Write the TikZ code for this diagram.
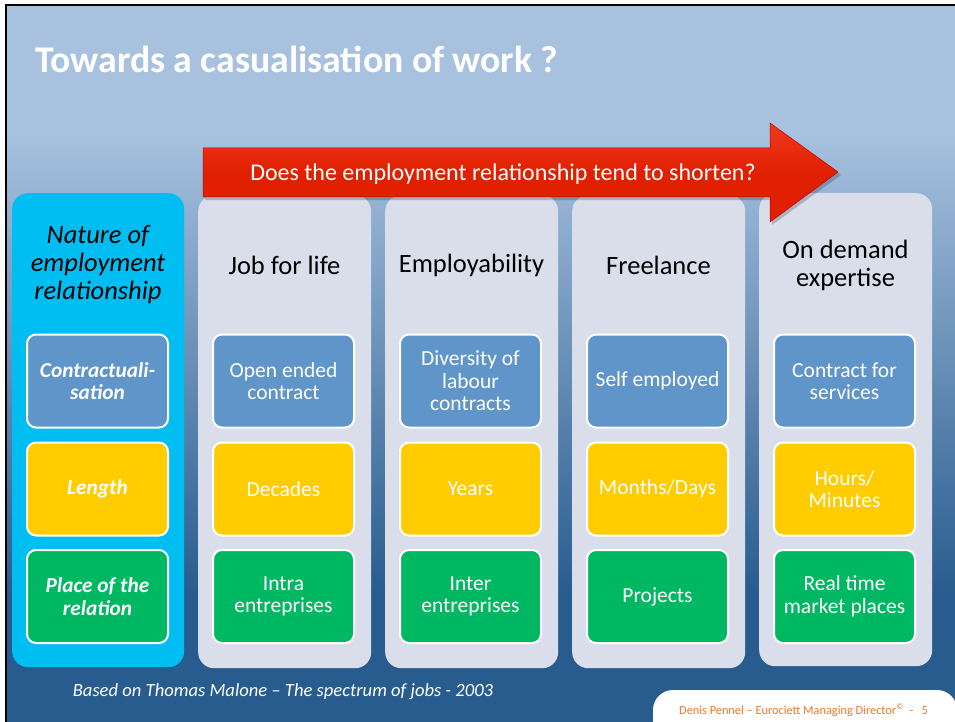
\documentclass[tikz,border=0pt]{standalone}
\usepackage{fontspec}
\setmainfont{Carlito}
\definecolor{bgtop}{HTML}{A7C1DF}
\definecolor{bgbot}{HTML}{285C8E}
\definecolor{cyanc}{HTML}{00BEF2}
\definecolor{lav}{HTML}{D9DEEA}
\definecolor{bluebox}{HTML}{5F95C9}
\definecolor{yellowbox}{HTML}{FFCC00}
\definecolor{greenbox}{HTML}{00B862}
\definecolor{redarrow}{HTML}{E02000}
\definecolor{redlight}{HTML}{F23A1C}
\definecolor{orangetext}{HTML}{E8792B}
\pgfdeclareverticalshading{slidebg}{100bp}{color(0bp)=(bgbot); color(34bp)=(bgbot); color(66bp)=(bgtop); color(100bp)=(bgtop)}
\tikzset{
  colbox/.style={fill=lav, rounded corners=16, minimum width=173pt, minimum height=473pt, anchor=north west, inner sep=0pt},
  leftcol/.style={fill=cyanc, rounded corners=16, minimum width=172pt, minimum height=474pt, anchor=north west, inner sep=0pt},
  cell/.style={draw=white, line width=2pt, rounded corners=9, minimum width=141pt, minimum height=93pt, inner sep=2pt, text=white, align=center, font=\fontsize{21.5}{22.5}\selectfont},
  bluecell/.style={cell, fill=bluebox},
  yellowcell/.style={cell, fill=yellowbox},
  greencell/.style={cell, fill=greenbox},
  lcell/.style={font=\fontsize{21.3}{22.5}\selectfont\bfseries\itshape},
  head/.style={align=center, text=black, font=\fontsize{26.5}{28}\selectfont},
}
\begin{document}
\begin{tikzpicture}[x=1pt,y=-1pt]
\useasboundingbox (0,0) rectangle (955,722);
\fill[white] (0,0) rectangle (955,722);
\shade[shading=slidebg] (6,5) rectangle (955,722);
\draw[black, line width=2pt] (6,722) -- (6,5) -- (955,5);

\node[anchor=base west, text=white, font=\fontsize{37.7}{40}\selectfont\bfseries, inner sep=0pt] (title) at (35,73) {Towards a casualisation of work ?};

% columns
\node[leftcol] (c0) at (12,193) {};
\node[colbox] (c1) at (198,195) {};
\node[colbox] (c2) at (385,195) {};
\node[colbox] (c3) at (572,195) {};
\node[colbox] (c4) at (759,193) {};

% headers
\node[head, font=\fontsize{26.5}{28}\selectfont\itshape] (h0) at (98,265) {Nature of\\employment\\relationship};
\node[head] (h1) at (284.5,265) {Job for life};
\node[head] (h2) at (471.5,265) {Employability};
\node[head] (h3) at (658.5,265) {Freelance};
\node[head] (h4) at (845.5,265) {On demand\\expertise};

% cells
\node[bluecell, lcell] (b0) at (97.5,381) {Contractuali-\\sation};
\node[yellowcell, lcell] (y0) at (97.5,489) {Length};
\node[greencell, lcell] (g0) at (97.5,596.5) {Place of the\\relation};

\node[bluecell] (b1) at (283.5,381) {Open ended\\contract};
\node[yellowcell] (y1) at (283.5,489) {Decades};
\node[greencell] (g1) at (283.5,596.5) {Intra\\entreprises};

\node[bluecell] (b2) at (470.5,381) {Diversity of\\labour\\contracts};
\node[yellowcell] (y2) at (470.5,489) {Years};
\node[greencell] (g2) at (470.5,596.5) {Inter\\entreprises};

\node[bluecell] (b3) at (657.5,381) {Self employed};
\node[yellowcell] (y3) at (657.5,489) {Months/Days};
\node[greencell] (g3) at (657.5,596.5) {Projects};

\node[bluecell] (b4) at (844.5,381) {Contract for\\services};
\node[yellowcell] (y4) at (844.5,489) {Hours/\\Minutes};
\node[greencell] (g4) at (844.5,596.5) {Real time\\market places};

% arrow
\fill[black, opacity=0.2] (205,151) -- (772,151) -- (772,126) -- (841,175) -- (772,225) -- (772,200) -- (205,200) -- cycle;
\shade[top color=redlight, bottom color=redarrow, middle color=redarrow, draw=red!75!black, line width=0.5pt]
  (203,148) -- (770,148) -- (770,123) -- (838,172) -- (770,222) -- (770,197) -- (203,197) -- cycle;
\node[text=white, font=\fontsize{24}{26}\selectfont] (arrowtext) at (503,174) {Does the employment relationship tend to shorten?};

% footnote
\node[text=white, font=\fontsize{18.6}{20}\selectfont\itshape] (note) at (283,692) {Based on Thomas Malone -- The spectrum of jobs - 2003};

% footer box
\begin{scope}
\clip (0,0) rectangle (955,722);
\fill[white, rounded corners=20] (653,740) -- (653,690) -- (957,690) -- (957,740);
\end{scope}
\node[anchor=base west, text=orangetext, font=\fontsize{12.3}{14}\selectfont, inner sep=0pt] (footer) at (679,714) {Denis Pennel -- Eurociett Managing Director\textsuperscript{©}\ \ -\ \ \ 5};
\end{tikzpicture}
\end{document}
